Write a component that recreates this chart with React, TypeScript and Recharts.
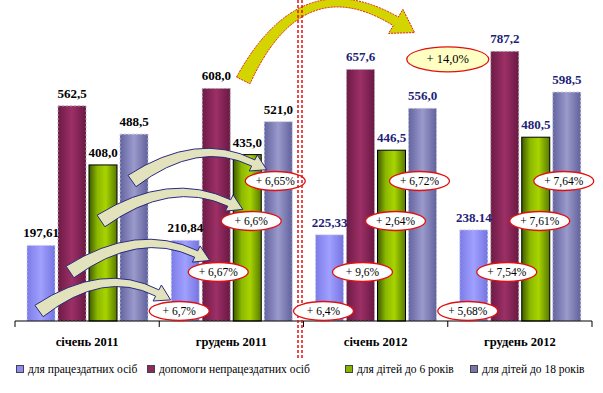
import React from 'react';
import { BarChart, Bar, XAxis, YAxis, Legend, LabelList } from 'recharts';

const categories = ['січень 2011', 'грудень 2011', 'січень 2012', 'грудень 2012'];
const ableBodied = [197.61, 210.84, 225.33, 238.14];
const disabled = [562.5, 608.0, 657.6, 787.2];
const kidsTo6 = [408.0, 435.0, 446.5, 480.5];
const kidsTo18 = [488.5, 521.0, 556.0, 598.5];
const ableBodiedLabels = ['197,61', '210,84', '225,33', '238.14'];

// growth vs. previous period, per series ('' = none)
const growthAble = ['', '6,7', '6,4', '5,68'];
const growthDisabled = ['', '6,67', '9,6', '7,54'];
const growthTo6 = ['', '6,6', '2,64', '7,61'];
const growthTo18 = ['', '6,65', '6,72', '7,64'];
const totalGrowth = '14,0';

const seriesNames = [
  'для працездатних осіб',
  'допомоги непрацездатних осіб',
  'для дітей до 6 років',
  'для дітей до 18 років',
];

const data = categories.map((name, i) => ({
  name,
  able: ableBodied[i],
  disabled: disabled[i],
  to6: kidsTo6[i],
  to18: kidsTo18[i],
}));

const FONT = '"Liberation Serif", "DejaVu Serif", "Times New Roman", Times, serif';
const W = 603;
const H = 393;
const MARGIN = { top: 15, right: 11, left: 15, bottom: 22 };
const BAND = (W - MARGIN.left - MARGIN.right) / categories.length;
const BAR_GAP = 3;
const CAT_GAP = 12;
const BAR_CAP = 705; // tallest bar is drawn cut down to this value
const ROW = [10, 49, 100, 140];
const ELL_DX = [-6, 2, 4, -3];
const GROWTH = [growthAble, growthDisabled, growthTo6, growthTo18];
const SWATCH = ['#8c8cf4', '#8b2a5c', '#86b400', '#7676ac'];
const LEGEND_LEFT = [16, 147, 345, 470];

type Pt = [number, number];

const arrowPath = (t: Pt, c: Pt, n: Pt, wT: number, wN: number, headW: number, headL: number) => {
  const norm = (dx: number, dy: number): Pt => {
    const l = Math.hypot(dx, dy) || 1;
    return [-dy / l, dx / l];
  };
  const nt = norm(c[0] - t[0], c[1] - t[1]);
  const nn = norm(n[0] - c[0], n[1] - c[1]);
  const nc: Pt = [(nt[0] + nn[0]) / 2, (nt[1] + nn[1]) / 2];
  const wc = (wT + wN) / 2;
  const u: Pt = [nn[1], -nn[0]];
  const p = (b: Pt, v: Pt, k: number) => `${(b[0] + v[0] * k).toFixed(1)},${(b[1] + v[1] * k).toFixed(1)}`;
  return (
    `M${p(t, nt, -wT / 2)} Q${p(c, nc, -wc / 2)} ${p(n, nn, -wN / 2)} L${p(n, nn, -headW)} ` +
    `L${p(n, u, headL)} L${p(n, nn, headW)} L${p(n, nn, wN / 2)} Q${p(c, nc, wc / 2)} ${p(t, nt, wT / 2)} Z`
  );
};

const cappedHeight = (height: number, value: number) => Math.min(height, (BAR_CAP * height) / value);

const CappedBar = (props: any) => {
  const { x, y, width, height, v, fill, stroke, strokeDasharray, strokeWidth } = props;
  if (!height || height <= 0) return null;
  const h = cappedHeight(height, v);
  return (
    <rect
      x={x}
      y={y + height - h}
      width={width}
      height={h}
      fill={fill}
      stroke={stroke}
      strokeDasharray={strokeDasharray}
      strokeWidth={strokeWidth}
    />
  );
};

const valueLabel = (texts?: string[]) => (props: any) => {
  const { x, y, width, height, value, index } = props;
  const top = y + height - cappedHeight(height, Number(value));
  const text = texts ? texts[index] : Number(value).toFixed(1).replace('.', ',');
  return (
    <text
      x={x + width / 2}
      y={top - 8}
      textAnchor="middle"
      style={{ fontFamily: FONT }}
      fontWeight="bold"
      fontSize={13}
      fill={index < 2 ? '#000' : '#1e1e78'}
    >
      {text}
    </text>
  );
};

const PctEllipse = ({ cx, cy, text, big }: { cx: number; cy: number; text: string; big?: boolean }) => (
  <g>
    <ellipse
      cx={cx}
      cy={cy}
      rx={big ? 41 : 30}
      ry={big ? 12.5 : 9.5}
      fill={big ? '#ffffc4' : '#fff'}
      stroke="#e01010"
      strokeWidth={1.3}
    />
    <text x={cx} y={cy + 4} textAnchor="middle" style={{ fontFamily: FONT }} fontSize={big ? 12.5 : 11.5} fill="#000">
      {`+ ${text}%`}
    </text>
  </g>
);

// drawn from the last series so it sits on top of every bar
const Annotations = (props: any) => {
  const { x, y, width, height, value, index } = props;
  if (!index) return null;
  const base = y + height;
  const step = width + BAR_GAP;
  const ppu = height / Number(value);
  const barX = (s: number) => x - (3 - s) * step;
  const out: React.ReactNode[] = [];

  if (index === 1) {
    for (let s = 0; s < 4; s++) {
      const jan = barX(s) - BAND + width / 2;
      const ex = barX(s) + width / 2 + ELL_DX[s];
      const ry = base - ROW[s];
      const t: Pt = [jan - 2, ry];
      const c: Pt = [jan + 0.45 * (ex - jan), ry - 46];
      const n: Pt = [ex - 22, ry - 18];
      out.push(
        <path
          key={`a${s}`}
          d={arrowPath(t, c, n, 14, 7, 9, 15)}
          fill="#e2e2bc"
          stroke="#2a2a80"
          strokeWidth={1}
        />
      );
    }
    const mx = barX(1) + width / 2;
    const top = base - cappedHeight(height, Number(value)) - (disabled[1] - kidsTo18[1]) * ppu;
    const t: Pt = [mx + 27, top - 8];
    const ex = mx + 2 * BAND - 57;
    const n: Pt = [ex - 52, base - BAR_CAP * ppu - 30];
    out.push(
      <path
        key="big"
        d={arrowPath(t, [mx + 85, -35], n, 15, 10, 14, 22)}
        fill="#d4d400"
        stroke="#e02020"
        strokeWidth={1}
        strokeDasharray="2 1"
      />
    );
  }

  if (index === 2) {
    const lx = barX(0) - CAT_GAP - 3.5;
    out.push(
      <g key="divider">
        <line x1={lx - 2} x2={lx - 2} y1={0} y2={358} stroke="#e01010" strokeWidth={1.5} strokeDasharray="3 2" />
        <line x1={lx + 2} x2={lx + 2} y1={0} y2={358} stroke="#e01010" strokeWidth={1.5} strokeDasharray="3 2" />
      </g>
    );
  }

  for (let s = 0; s < 4; s++) {
    out.push(
      <PctEllipse key={`e${s}`} cx={barX(s) + width / 2 + ELL_DX[s]} cy={base - ROW[s]} text={GROWTH[s][index]} />
    );
  }

  if (index === 3) {
    const mx = barX(1) + width / 2;
    out.push(<PctEllipse key="total" cx={mx - 57} cy={base - BAR_CAP * ppu + 8} text={totalGrowth} big />);
  }
  return <g>{out}</g>;
};

const CategoryTick = (props: any) => {
  const { x, y, payload, index } = props;
  return (
    <g>
      <line x1={x - BAND / 2} x2={x - BAND / 2} y1={y} y2={y + 6} stroke="#000" />
      {index === categories.length - 1 && <line x1={x + BAND / 2} x2={x + BAND / 2} y1={y} y2={y + 6} stroke="#000" />}
      <text x={x} y={y + 25} textAnchor="middle" style={{ fontFamily: FONT }} fontWeight="bold" fontSize={12.5} fill="#000">
        {payload.value}
      </text>
    </g>
  );
};

const renderLegend = () => (
  <div style={{ position: 'relative', height: 20, fontFamily: FONT, fontSize: 11.5, color: '#000' }}>
    {seriesNames.map((n, i) => (
      <div
        key={n}
        style={{ position: 'absolute', left: LEGEND_LEFT[i], top: 2, display: 'flex', alignItems: 'center', whiteSpace: 'nowrap' }}
      >
        <span style={{ display: 'inline-block', width: 6, height: 6, background: SWATCH[i], border: '1px solid #444', marginRight: 4 }} />
        {n}
      </div>
    ))}
  </div>
);

const App: React.FC = () => {
  return (
    <div style={{ position: 'absolute', left: 0, top: 0, width: W, height: H, background: '#fff' }}>
      <BarChart width={W} height={H} data={data} margin={MARGIN} barGap={BAR_GAP} barCategoryGap={CAT_GAP}>
        <defs>
          <linearGradient id="gAble" x1="0" y1="0" x2="1" y2="0">
            <stop offset="0" stopColor="#7c7ce8" />
            <stop offset="0.5" stopColor="#a0a0ff" />
            <stop offset="1" stopColor="#7474e0" />
          </linearGradient>
          <linearGradient id="gDis" x1="0" y1="0" x2="1" y2="0">
            <stop offset="0" stopColor="#6e1a46" />
            <stop offset="0.5" stopColor="#9c3066" />
            <stop offset="1" stopColor="#6a1844" />
          </linearGradient>
          <linearGradient id="gTo6" x1="0" y1="0" x2="1" y2="0">
            <stop offset="0" stopColor="#3e5c00" />
            <stop offset="0.3" stopColor="#8cb800" />
            <stop offset="0.6" stopColor="#a8d400" />
            <stop offset="1" stopColor="#567a00" />
          </linearGradient>
          <linearGradient id="gTo18" x1="0" y1="0" x2="1" y2="0">
            <stop offset="0" stopColor="#6464a0" />
            <stop offset="0.5" stopColor="#9a9acc" />
            <stop offset="1" stopColor="#62629c" />
          </linearGradient>
        </defs>
        <XAxis
          dataKey="name"
          height={30}
          tickSize={0}
          tickMargin={0}
          tickLine={false}
          axisLine={{ stroke: '#000' }}
          tick={<CategoryTick />}
          interval={0}
        />
        <YAxis hide domain={[0, 800]} />
        <Legend verticalAlign="bottom" content={renderLegend} wrapperStyle={{ left: 0, top: 361, width: W }} />
        <Bar
          dataKey="able"
          name={seriesNames[0]}
          fill="url(#gAble)"
          stroke="#d0d0f0"
          strokeDasharray="2 2"
          isAnimationActive={false}
          shape={(p: any) => <CappedBar {...p} v={p.payload.able} />}
        >
          <LabelList dataKey="able" content={valueLabel(ableBodiedLabels)} />
        </Bar>
        <Bar
          dataKey="disabled"
          name={seriesNames[1]}
          fill="url(#gDis)"
          stroke="#b0b0b0"
          strokeDasharray="2 2"
          isAnimationActive={false}
          shape={(p: any) => <CappedBar {...p} v={p.payload.disabled} />}
        >
          <LabelList dataKey="disabled" content={valueLabel()} />
        </Bar>
        <Bar
          dataKey="to6"
          name={seriesNames[2]}
          fill="url(#gTo6)"
          stroke="#000"
          strokeWidth={1}
          isAnimationActive={false}
          shape={(p: any) => <CappedBar {...p} v={p.payload.to6} />}
        >
          <LabelList dataKey="to6" content={valueLabel()} />
        </Bar>
        <Bar
          dataKey="to18"
          name={seriesNames[3]}
          fill="url(#gTo18)"
          stroke="#c8c8e0"
          strokeDasharray="2 2"
          isAnimationActive={false}
          shape={(p: any) => <CappedBar {...p} v={p.payload.to18} />}
        >
          <LabelList dataKey="to18" content={valueLabel()} />
          <LabelList dataKey="to18" content={Annotations} />
        </Bar>
      </BarChart>
    </div>
  );
};

export default App;
